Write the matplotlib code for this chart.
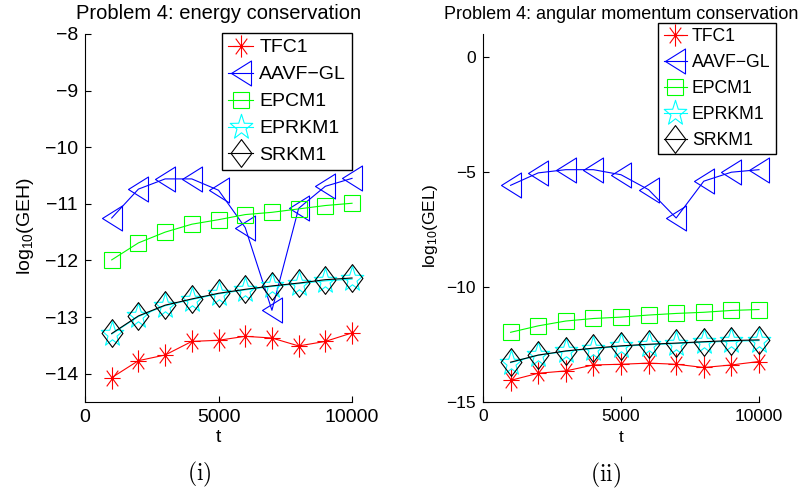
import matplotlib
matplotlib.use("Agg")
import matplotlib.pyplot as plt
import numpy as np
from matplotlib.path import Path

plt.rcParams['font.family'] = ['Liberation Sans', 'DejaVu Sans']
plt.rcParams['mathtext.fontset'] = 'custom'
plt.rcParams['mathtext.rm'] = 'Liberation Sans'
plt.rcParams['mathtext.it'] = 'Liberation Sans:italic'

# time points
t = [1000, 2000, 3000, 4000, 5000, 6000, 7000, 8000, 9000, 10000]

# energy errors log10(GEH)
tfc1_H = [-14.07, -13.77, -13.67, -13.43, -13.41, -13.34, -13.37, -13.51, -13.43, -13.28]
aavf_H = [-11.25, -10.74, -10.56, -10.56, -10.76, -11.42, -12.88, -11.08, -10.69, -10.55]
epcm1_H = [-11.99, -11.69, -11.50, -11.36, -11.28, -11.19, -11.15, -11.09, -11.03, -10.99]
eprkm1_H = [-13.30, -12.99, -12.80, -12.69, -12.59, -12.52, -12.46, -12.41, -12.36, -12.33]
srkm1_H = [-13.29, -12.98, -12.79, -12.68, -12.58, -12.51, -12.45, -12.40, -12.34, -12.31]

# angular momentum errors log10(GEL)
tfc1_L = [-14.06, -13.75, -13.65, -13.39, -13.36, -13.31, -13.36, -13.50, -13.39, -13.24]
aavf_L = [-5.58, -5.04, -4.90, -4.90, -5.12, -5.77, -7.00, -5.40, -5.01, -4.90]
epcm1_L = [-11.97, -11.69, -11.48, -11.37, -11.31, -11.22, -11.15, -11.10, -11.02, -10.98]
eprkm1_L = [-13.29, -12.97, -12.80, -12.68, -12.58, -12.51, -12.46, -12.40, -12.36, -12.33]
srkm1_L = [-13.27, -12.96, -12.78, -12.66, -12.56, -12.49, -12.44, -12.38, -12.33, -12.30]

labels = ['TFC1', 'AAVF\u2212GL', 'EPCM1', 'EPRKM1', 'SRKM1']

# matlab-ish markers (slightly taller than wide)
asterisk = Path([(0, -1), (0, 1), (-0.73, 0), (0.73, 0),
                 (-0.52, -0.71), (0.52, 0.71), (-0.52, 0.71), (0.52, -0.71)],
                [Path.MOVETO, Path.LINETO] * 4)
tri_left = Path([(-0.8, 0), (0.8, 1), (0.8, -1), (-0.8, 0)], closed=True)
diamond = Path([(0, 1), (0.75, 0), (0, -1), (-0.75, 0), (0, 1)], closed=True)
ang = np.pi / 2 + np.arange(10) * np.pi / 5
rad = np.where(np.arange(10) % 2 == 0, 1.0, 0.4)
pts = np.column_stack([0.9 * rad * np.cos(ang), rad * np.sin(ang)])
pent = Path(np.vstack([pts, pts[:1]]), closed=True)

styles = [
    dict(color='red', marker=asterisk, ms=16),
    dict(color='blue', marker=tri_left, ms=18),
    dict(color='#00ff00', marker='s', ms=12),
    dict(color='cyan', marker=pent, ms=19),
    dict(color='black', marker=diamond, ms=20),
]


def panel(ax, series, fs):
    for y, st, lab in zip(series, styles, labels):
        ax.plot(t, y, color=st['color'], lw=0.8, marker=st['marker'],
                ms=st['ms'], mfc='none', mec=st['color'], mew=0.8, label=lab,
                clip_on=False)
    ax.set_xlim(0, 10000)
    ax.set_xticks([0, 5000, 10000])
    ax.spines['top'].set_visible(False)
    ax.spines['right'].set_visible(False)
    for s in ['left', 'bottom']:
        ax.spines[s].set_linewidth(0.8)
    ax.tick_params(direction='in', length=4, width=0.8, labelsize=fs, pad=5)
    ax.yaxis.set_major_formatter(matplotlib.ticker.FuncFormatter(
        lambda v, p: f'{v:.0f}'.replace('-', '\u2212')))


fig = plt.figure(figsize=(7.99, 4.93), dpi=100)
ax1 = fig.add_axes([0.1064, 0.1846, 0.3342, 0.7465])
ax2 = fig.add_axes([0.6045, 0.1846, 0.3454, 0.7465])

panel(ax1, [tfc1_H, aavf_H, epcm1_H, eprkm1_H, srkm1_H], 14)
ax1.set_ylim(-14.5, -8)
ax1.set_yticks(np.arange(-14, -7))
ax1.set_title('Problem 4: energy conservation', fontsize=14.5, pad=11)

panel(ax2, [tfc1_L, aavf_L, epcm1_L, eprkm1_L, srkm1_L], 12.5)
ax2.set_ylim(-15, 1)
ax2.set_yticks([-15, -10, -5, 0])
ax2.set_title('Problem 4: angular momentum conservation', fontsize=13, pad=11)

leg_kw = dict(loc='upper right', numpoints=1, fancybox=False, framealpha=1,
              edgecolor='black', borderaxespad=0, handletextpad=0.3,
              borderpad=0.3, bbox_transform=fig.transFigure)
l1 = ax1.legend(bbox_to_anchor=(0.4406, 0.933), fontsize=14, handlelength=1.3,
                labelspacing=0.48, **leg_kw)
l2 = ax2.legend(bbox_to_anchor=(0.971, 0.953), fontsize=12.7, handlelength=1.3,
                labelspacing=0.5, **leg_kw)
for l in (l1, l2):
    l.get_frame().set_linewidth(1.0)
    l.set_zorder(5)

fig.text(25 / 799, 1 - 226 / 493, r'log$_{10}$(GEH)', rotation=90,
         ha='center', va='center', fontsize=14)
fig.text(430 / 799, 1 - 226 / 493, r'log$_{10}$(GEL)', rotation=90,
         ha='center', va='center', fontsize=12.5)
fig.text(218 / 799, 1 - 437 / 493, 't', ha='center', va='center', fontsize=14)
fig.text(621 / 799, 1 - 437 / 493, 't', ha='center', va='center', fontsize=12.5)

fig.text(199 / 799, 1 - 474 / 493, r'$(\mathrm{i})$', ha='center', va='center',
         fontsize=17, math_fontfamily='cm')
fig.text(606 / 799, 1 - 475 / 493, r'$(\mathrm{ii})$', ha='center', va='center',
         fontsize=17, math_fontfamily='cm')

fig.savefig('out.png', dpi=100)
